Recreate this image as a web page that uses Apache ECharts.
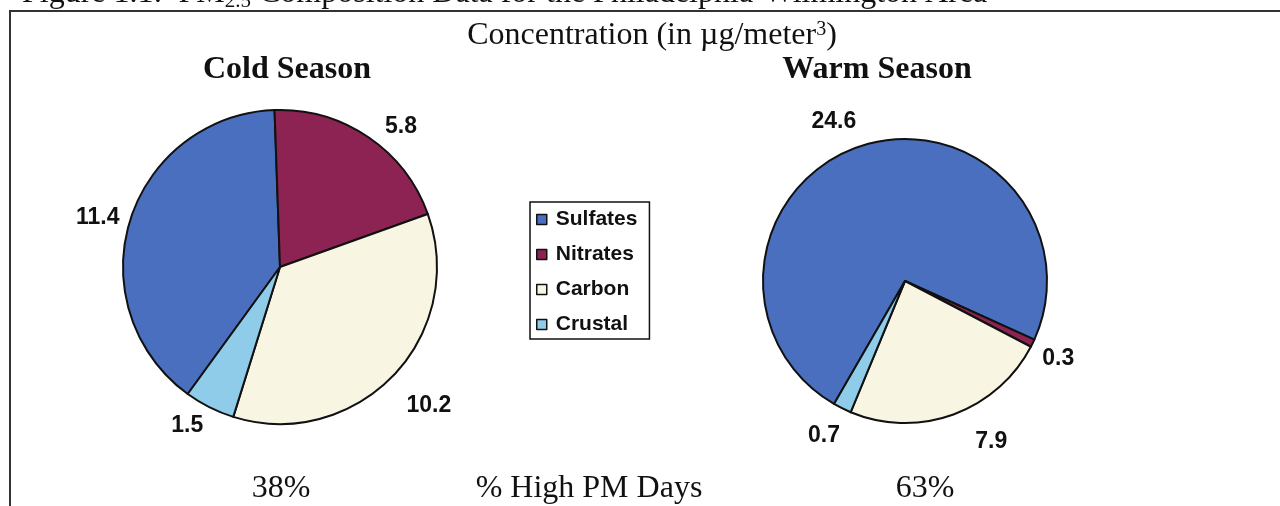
<!DOCTYPE html>
<html>
<head>
<meta charset="utf-8">
<script src="https://cdn.jsdelivr.net/npm/echarts@6/dist/echarts.min.js"></script>
<style>
html,body{margin:0;padding:0;background:#fff;}
#chart{width:1280px;height:506px;}
</style>
</head>
<body>
<div id="chart"></div>
<script>
// ---- data ----
const categories = ['Sulfates', 'Nitrates', 'Carbon', 'Crustal'];
const coldValues = [11.4, 5.8, 10.2, 1.5];
const warmValues = [24.6, 0.3, 7.9, 0.7];
const seasonNames = ['Cold Season', 'Warm Season'];
const highPmDays = ['38%', '63%'];
const highPmLabel = '% High PM Days';
const unitTitle = 'Concentration (in \u00b5g/meter{sup|3})';
const figureTitle = 'Figure 1.1:  PM{sub|2.5} Composition Data for the Philadelphia-Wilmington Area';

// ---- styling (kept separate from data) ----
const colors = ['#4A6FBF', '#8C2352', '#F8F6E3', '#8ECCEA'];
// small nudges of the value labels, in pixels, relative to the library placement
const coldLabelNudge = [[8, 1], [4, 1], [-2, 20], [5, 6]];
const warmLabelNudge = [[4, -11], [-8, 9], [12, 14], [9, 15]];
const serif = '"Liberation Serif", "Times New Roman", serif';
const sans = '"Liberation Sans", Arial, sans-serif';
const ink = '#111';

function toData(vals) {
  return categories.map((c, i) => ({ name: c, value: vals[i] }));
}

function pieSeries(vals, nudge, center, radius, startAngle) {
  return {
    type: 'pie',
    center: center,
    radius: radius,
    startAngle: startAngle,
    clockwise: true,
    avoidLabelOverlap: false,
    data: toData(vals),
    label: {
      show: true,
      position: 'outside',
      formatter: '{c}',
      fontFamily: sans,
      fontWeight: 'bold',
      fontSize: 23,
      color: ink
    },
    labelLine: { show: false, length: 14, length2: 0 },
    labelLayout: function (p) {
      const n = nudge[p.dataIndex] || [0, 0];
      return { dx: n[0], dy: n[1] };
    },
    itemStyle: { borderColor: ink, borderWidth: 2 },
    emphasis: { disabled: true },
    animation: false
  };
}

const chart = echarts.init(document.getElementById('chart'), null, { renderer: 'canvas' });

function txt(x, y, text, font, extra) {
  return {
    type: 'text', x: x, y: y, silent: true,
    style: Object.assign({ text: text, font: font, fill: ink, textAlign: 'center', textVerticalAlign: 'middle' }, extra || {})
  };
}

chart.setOption({
  backgroundColor: '#fff',
  color: colors,
  animation: false,
  legend: {
    data: categories,
    orient: 'vertical',
    left: 530,
    top: 202,
    itemWidth: 10,
    itemHeight: 10,
    itemGap: 14,
    icon: 'rect',
    itemStyle: { borderColor: ink, borderWidth: 1.5 },
    textStyle: { fontFamily: sans, fontWeight: 'bold', fontSize: 21, color: ink, padding: [0, 0, 0, 4] },
    borderColor: ink,
    borderWidth: 1.5,
    padding: [7, 12, 4, 6],
    backgroundColor: '#fff',
    selectedMode: false
  },
  graphic: [
    {
      type: 'rect', silent: true, z: -1,
      shape: { x: 10, y: 11, width: 1300, height: 600 },
      style: { fill: 'none', stroke: '#333', lineWidth: 2 }
    },
    {
      type: 'text', x: 22, y: -6, silent: true,
      style: {
        text: figureTitle, font: '32px ' + serif, fill: ink,
        textAlign: 'left', textVerticalAlign: 'middle',
        rich: { sub: { fontSize: 21, fontFamily: serif, verticalAlign: 'bottom', padding: [14, 0, 0, 0] } }
      }
    },
    txt(652, 36, unitTitle, '32px ' + serif, {
      rich: { sup: { fontSize: 20, fontFamily: serif, lineHeight: 20, verticalAlign: 'top', padding: [0, 0, 10, 0] } }
    }),
    txt(287, 70, seasonNames[0], 'bold 32px ' + serif),
    txt(877, 70, seasonNames[1], 'bold 32px ' + serif),
    txt(281, 489, highPmDays[0], '32px ' + serif),
    txt(589, 489, highPmLabel, '32px ' + serif),
    txt(925, 489, highPmDays[1], '32px ' + serif)
  ],
  series: [
    pieSeries(coldValues, coldLabelNudge, [280, 267], 157, 234),
    pieSeries(warmValues, warmLabelNudge, [905, 281], 142, 240)
  ]
});
</script>
</body>
</html>
